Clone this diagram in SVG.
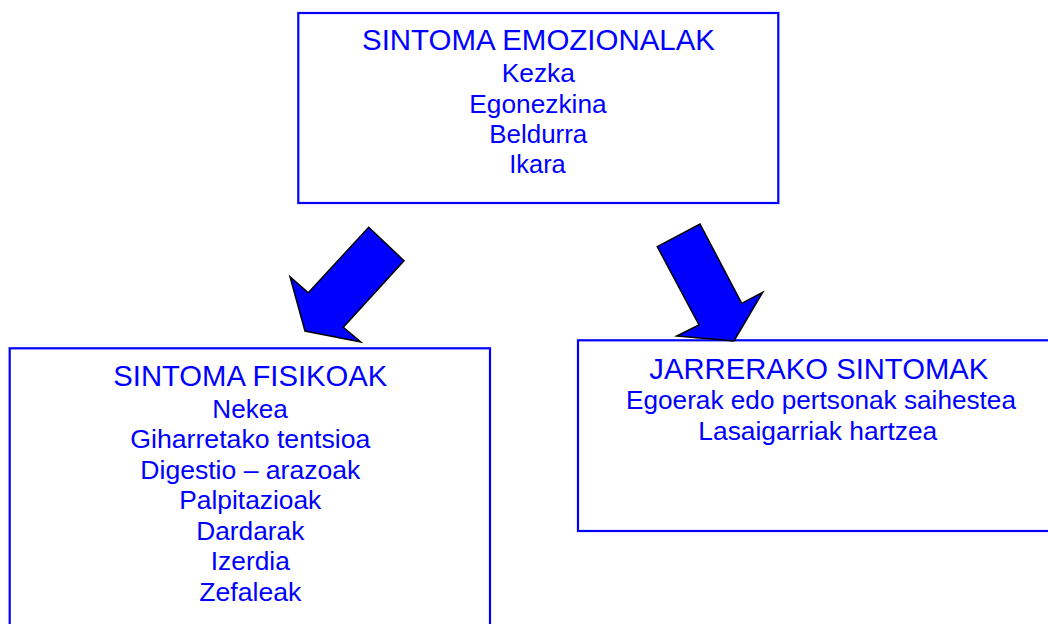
<svg xmlns="http://www.w3.org/2000/svg" width="1048" height="624" viewBox="0 0 1048 624">
<style>
.box{fill:#fff;stroke:#0000ff;stroke-width:2.2}
.t{font-family:"Liberation Sans",Arial,sans-serif;fill:#0000ff;text-anchor:middle}
.h{font-size:29px}
.b{font-size:25px}
.arr{fill:#0000ff;stroke:#000;stroke-width:1.5;stroke-linejoin:miter}
</style>
<rect width="1048" height="624" fill="#fff"/>
<g id="emozionalak">
<rect class="box" x="298.3" y="13" width="480" height="190"/>
<text class="t h" x="538.5" y="50" textLength="353" lengthAdjust="spacingAndGlyphs">SINTOMA EMOZIONALAK</text>
<text class="t b" x="538.3" y="81.5" textLength="73.3" lengthAdjust="spacingAndGlyphs">Kezka</text>
<text class="t b" x="538" y="112.5" textLength="137.3" lengthAdjust="spacingAndGlyphs">Egonezkina</text>
<text class="t b" x="538.3" y="142.5" textLength="98" lengthAdjust="spacingAndGlyphs">Beldurra</text>
<text class="t b" x="537.5" y="172.5" textLength="56.4" lengthAdjust="spacingAndGlyphs">Ikara</text>
</g>
<g id="fisikoak">
<rect class="box" x="9.7" y="348.3" width="480.3" height="300"/>
<text class="t h" x="250.3" y="385.5" textLength="274" lengthAdjust="spacingAndGlyphs">SINTOMA FISIKOAK</text>
<text class="t b" x="250" y="417.5" textLength="75.4" lengthAdjust="spacingAndGlyphs">Nekea</text>
<text class="t b" x="250.3" y="448" textLength="240" lengthAdjust="spacingAndGlyphs">Giharretako tentsioa</text>
<text class="t b" x="250.3" y="478.5" textLength="220" lengthAdjust="spacingAndGlyphs">Digestio – arazoak</text>
<text class="t b" x="250.3" y="509" textLength="142" lengthAdjust="spacingAndGlyphs">Palpitazioak</text>
<text class="t b" x="250.3" y="539.5" textLength="108" lengthAdjust="spacingAndGlyphs">Dardarak</text>
<text class="t b" x="250.3" y="570" textLength="79" lengthAdjust="spacingAndGlyphs">Izerdia</text>
<text class="t b" x="250.3" y="600.5" textLength="102" lengthAdjust="spacingAndGlyphs">Zefaleak</text>
</g>
<g id="jarrerako">
<rect class="box" x="578" y="340.3" width="482" height="190.7"/>
<text class="t h" x="818.8" y="378.5" textLength="339" lengthAdjust="spacingAndGlyphs">JARRERAKO SINTOMAK</text>
<text class="t b" x="821" y="409" textLength="390" lengthAdjust="spacingAndGlyphs">Egoerak edo pertsonak saihestea</text>
<text class="t b" x="817.8" y="439.5" textLength="239" lengthAdjust="spacingAndGlyphs">Lasaigarriak hartzea</text>
</g>
<g id="connectors">
<polygon class="arr" points="368.7,227.3 404,260.7 343.3,327.3 360.7,342 305,331 290,276.7 308.3,292.7"/>
<polygon class="arr" points="657.3,246.7 700,224 741.7,303.3 762.7,292.3 734,341 676.7,336 699,325"/>
</g>
</svg>
